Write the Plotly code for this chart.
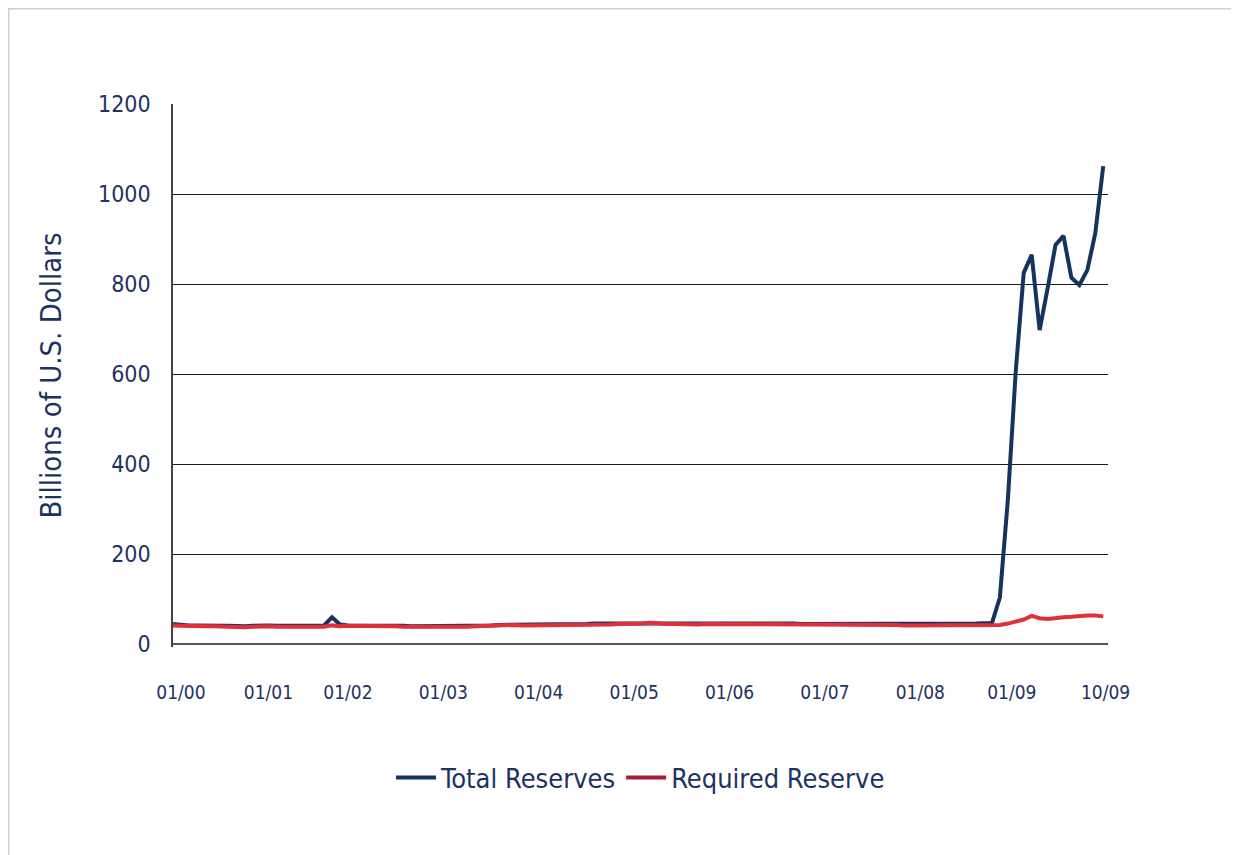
import plotly.graph_objects as go

# ---- data (billions of U.S. dollars, monthly 01/2000 .. 10/2009) ----
total_2000 = [45, 43, 42, 42, 41, 41, 41, 41, 40, 40, 41, 42]
total_2001 = [42, 41, 41, 41, 41, 42, 41, 42, 60, 44, 42, 42]
total_2002 = [43, 42, 41, 41, 41, 41, 40, 40, 40, 40, 40, 41]
total_2003 = [42, 41, 41, 41, 42, 43, 43, 43, 43, 44, 44, 45]
total_2004 = [45, 44, 44, 45, 45, 46, 46, 46, 46, 46, 46, 47]
total_2005 = [47, 47, 46, 47, 47, 48, 46, 47, 47, 46, 46, 47]
total_2006 = [47, 47, 46, 47, 47, 46, 46, 45, 45, 46, 46, 46]
total_2007 = [46, 45, 44, 44, 44, 44, 44, 44, 44, 44, 44, 44]
total_2008 = [44, 45, 45, 44, 45, 46, 47, 47, 104, 320, 607, 825]
total_2009 = [865, 698, 790, 887, 907, 814, 798, 831, 913, 1062]

req_2000 = [42, 41, 41, 40, 40, 40, 39, 39, 38, 38, 39, 40]
req_2001 = [40, 39, 38, 39, 39, 39, 39, 39, 42, 40, 41, 41]
req_2002 = [42, 41, 40, 40, 40, 39, 39, 37, 37, 37, 38, 38]
req_2003 = [38, 39, 40, 41, 41, 42, 42, 43, 42, 42, 43, 44]
req_2004 = [44, 43, 42, 43, 44, 44, 44, 44, 45, 45, 45, 46]
req_2005 = [48, 46, 45, 45, 44, 44, 44, 45, 45, 45, 45, 45]
req_2006 = [45, 45, 44, 44, 45, 45, 45, 44, 44, 44, 44, 45]
req_2007 = [45, 44, 43, 43, 43, 44, 44, 43, 42, 42, 43, 43]
req_2008 = [43, 43, 42, 42, 43, 43, 43, 43, 43, 46, 50, 55]
req_2009 = [63, 58, 56, 59, 60, 61, 63, 64, 64, 62]

tick_labels = ["01/00", "01/01", "01/02", "01/03", "01/04", "01/05",
               "01/06", "01/07", "01/08", "01/09", "10/09"]
tick_months = [1, 12, 22, 34, 46, 58, 70, 82, 94, 105.5, 117.3]

y_ticks = [0, 200, 400, 600, 800, 1000, 1200]

total = (total_2000 + total_2001 + total_2002 + total_2003 + total_2004 +
         total_2005 + total_2006 + total_2007 + total_2008 + total_2009)
required = (req_2000 + req_2001 + req_2002 + req_2003 + req_2004 +
            req_2005 + req_2006 + req_2007 + req_2008 + req_2009)
months = list(range(len(total)))

NAVY = "#14335f"
RED = "#e03038"
MAROON = "#a81c3c"
TEXT = "#1c3360"
FONT = "DejaVu Sans Condensed, Liberation Sans Narrow, sans-serif"

fig = go.Figure()
fig.add_trace(go.Scatter(x=months, y=total, mode="lines",
                         line=dict(color=NAVY, width=4), showlegend=False))
fig.add_trace(go.Scatter(x=months, y=required, mode="lines",
                         line=dict(color=RED, width=4), showlegend=False))
# legend entries
fig.add_trace(go.Scatter(x=[None], y=[None], mode="lines", name="Total Reserves",
                         line=dict(color=NAVY, width=4)))
fig.add_trace(go.Scatter(x=[None], y=[None], mode="lines", name="Required Reserve",
                         line=dict(color=MAROON, width=4)))

# page body adds an 8px offset; figure coordinates = screen - 8
W, H = 1231, 847
L, T = 165, 96
R = W - 1100
B = H - 639
pw, ph = W - L - R, H - T - B

def px_x(p):
    return (p - L) / pw

def px_y(p):
    return (H - B - p) / ph

fig.add_shape(type="rect", xref="paper", yref="paper",
              x0=px_x(0.8), x1=px_x(1229), y0=px_y(860), y1=px_y(0.8),
              line=dict(color="#cfcfcf", width=1.5), fillcolor="rgba(0,0,0,0)",
              layer="below")

fig.update_layout(
    width=W, height=H,
    margin=dict(l=L, r=R, t=T, b=B),
    paper_bgcolor="white", plot_bgcolor="white",
    font=dict(family=FONT, color=TEXT),
    showlegend=True,
    legend=dict(orientation="h", x=0.5, xanchor="center",
                y=px_y(770), yanchor="middle",
                font=dict(size=27, color=TEXT, family=FONT),
                itemwidth=40, tracegroupgap=0, bgcolor="rgba(0,0,0,0)"),
)

fig.update_xaxes(
    range=[0, 117.6],
    tickmode="array", tickvals=tick_months, ticktext=tick_labels,
    tickfont=dict(size=19, color=TEXT, family=FONT),
    ticklabelstandoff=32,
    showgrid=False, zeroline=False, showline=False, ticks="",
    fixedrange=True,
)
fig.update_yaxes(
    range=[-6, 1200],
    tickmode="array", tickvals=y_ticks,
    tickfont=dict(size=23, color=TEXT, family=FONT),
    ticklabelstandoff=16,
    showgrid=True, gridcolor="#1a1a1a", gridwidth=1.2,
    zeroline=True, zerolinecolor="#555555", zerolinewidth=2,
    showline=True, linecolor="#444444", linewidth=1.5,
    ticks="",
    title=dict(text="Billions of U.S. Dollars",
               font=dict(size=29, color=TEXT, family=FONT), standoff=28),
    automargin=False,
)

fig.write_html("out.html")
